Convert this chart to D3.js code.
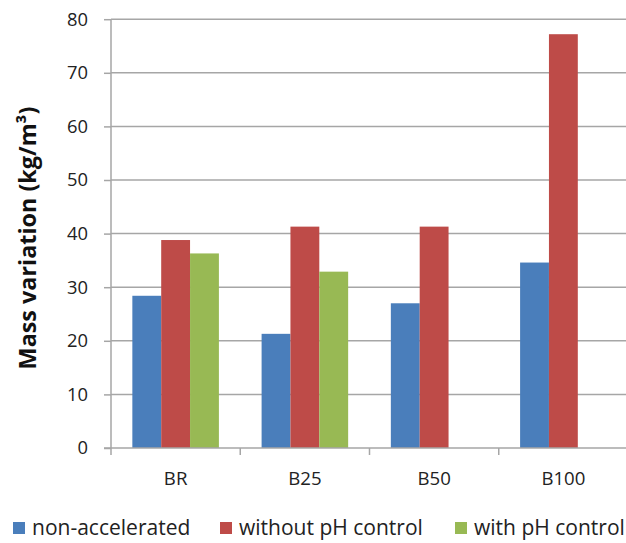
<!DOCTYPE html>
<html><head><meta charset="utf-8">
<script src="https://cdn.jsdelivr.net/npm/d3@7"></script>
<style>body{margin:0;background:#fff}svg{display:block}</style>
</head><body>
<script>
const categories = ["BR", "B25", "B50", "B100"];
const seriesNames = ["non-accelerated", "without pH control", "with pH control"];
const nonAccelerated = [28.4, 21.3, 27.0, 34.6];
const withoutPH = [38.8, 41.3, 41.3, 77.2];
const withPH = [36.3, 32.9, null, null];
const yTicks = [0, 10, 20, 30, 40, 50, 60, 70, 80];
const colors = ["#4A7EBB", "#BE4B48", "#98B954"];

const W = 626, H = 543;
const font = "'Open Sans', Lato, sans-serif";
const svg = d3.select("body").append("svg").attr("width", W).attr("height", H);

// font size that makes a given text reach a target width
function fitSize(str, target, weight) {
  const t = svg.append("text").attr("font-family", font).attr("font-size", 100)
    .attr("font-weight", weight || "normal").text(str);
  const w = t.node().getComputedTextLength();
  t.remove();
  return 100 * target / w;
}
const tickSize = fitSize("80", 21);
const catSize = fitSize("B100", 44);
const legSize = fitSize("without pH control", 184);
const labSize = fitSize("Mass variation (kg/m³)", 263, "bold");

const x = d3.scaleBand().domain(categories).range([111, 628]);
const xs = d3.scaleBand().domain(seriesNames).range([0, x.bandwidth()]).paddingOuter(0.74);
const y = d3.scaleLinear().domain([0, 80]).range([448, 19.2]);

// gridlines
svg.append("g").selectAll("line").data(yTicks.slice(1)).join("line")
  .attr("x1", 111).attr("x2", 628).attr("y1", d => y(d)).attr("y2", d => y(d))
  .attr("stroke", "#a6a6a6").attr("stroke-width", 1.5);

const series = [nonAccelerated, withoutPH, withPH];
const g = svg.append("g");
series.forEach((vals, si) => {
  g.append("g").selectAll("rect").data(categories.map((c, i) => ({c, v: vals[i]})).filter(d => d.v != null))
    .join("rect")
    .attr("x", d => x(d.c) + xs(seriesNames[si]))
    .attr("width", xs.bandwidth())
    .attr("y", d => y(d.v))
    .attr("height", d => y(0) - y(d.v))
    .attr("fill", colors[si]);
});

// y axis
const yAxis = svg.append("g").attr("transform", "translate(111,0)")
  .call(d3.axisLeft(y).tickValues(yTicks).tickSize(7).tickPadding(16));
yAxis.select(".domain").attr("stroke", "#a6a6a6").attr("stroke-width", 1.5).attr("d", `M0,${y(80)}V${y(0)}`);
yAxis.selectAll(".tick line").attr("stroke", "#a6a6a6").attr("stroke-width", 1.5);
yAxis.selectAll("text").attr("font-family", font).attr("font-size", tickSize).attr("fill", "#222");

// x axis
const xAxis = svg.append("g").attr("transform", `translate(0,${y(0)})`)
  .call(d3.axisBottom(x).tickSize(0).tickPadding(24));
xAxis.select(".domain").attr("stroke", "#a6a6a6").attr("stroke-width", 1.5).attr("d", `M104,0H628`);
xAxis.selectAll("text").attr("font-family", font).attr("font-size", catSize).attr("fill", "#222");
svg.append("g").selectAll("line").data(categories).join("line")
  .attr("x1", d => x(d)).attr("x2", d => x(d)).attr("y1", y(0)).attr("y2", y(0) + 7)
  .attr("stroke", "#a6a6a6").attr("stroke-width", 1.5);

// y label
svg.append("text").attr("transform", "translate(36,238) rotate(-90)")
  .attr("text-anchor", "middle").attr("font-family", font).attr("font-weight", "bold")
  .attr("font-size", labSize).attr("fill", "#111")
  .text("Mass variation (kg/m³)");

// legend
const legX = [13, 220, 455];
const leg = svg.append("g").selectAll("g").data(seriesNames).join("g")
  .attr("transform", (d, i) => `translate(${legX[i]},528)`);
leg.append("rect").attr("x", 0).attr("y", -6).attr("width", 12).attr("height", 12).attr("fill", (d, i) => colors[i]);
leg.append("text").attr("x", 19).attr("y", 0).attr("dy", "0.35em")
  .attr("font-family", font).attr("font-size", legSize).attr("fill", "#222").text(d => d);
</script>
</body></html>
